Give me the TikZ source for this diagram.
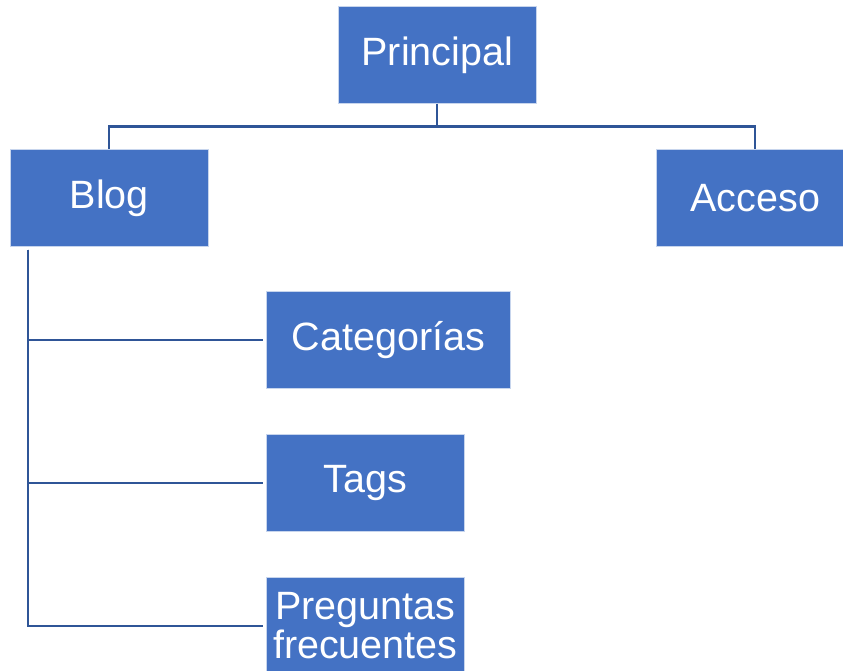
\documentclass[tikz,border=0pt]{standalone}
\usepackage{fontspec}
\setmainfont{Liberation Sans}
\definecolor{boxblue}{RGB}{68,114,196}
\definecolor{lineblue}{RGB}{47,85,151}
\begin{document}
\begin{tikzpicture}[x=1pt,y=-1pt,
  box/.style={fill=boxblue, draw=white!70!boxblue, line width=0.6pt, anchor=north west, inner sep=0pt,
    text=white, font=\fontsize{39.5}{40}\selectfont, align=center},
  conn/.style={draw=lineblue, line width=2.2pt}]
\useasboundingbox (0,0) rectangle (843,671);
\clip (0,0) rectangle (843,671);
\node[box, minimum width=198pt, minimum height=97pt] (principal) at (338,6) {Principal};
\node[box, minimum width=198pt, minimum height=97pt] (blog) at (10,149) {Blog};
\node[box, minimum width=198pt, minimum height=97pt] (acceso) at (656,149) {Acceso};
\node[box, minimum width=244pt, minimum height=97pt] (cat) at (266,291) {Categorías};
\node[box, minimum width=198pt, minimum height=97pt] (tags) at (266,434) {Tags};
\node[box, minimum width=198pt, minimum height=97pt] (preg) at (266,577) {Preguntas\\[-1pt]frecuentes};
\coordinate (bus) at ([yshift=-23pt]principal.south);
\coordinate (bstart) at ([xshift=18pt,yshift=-3pt]blog.south west);
\draw[conn] (principal.south) -- (bus) -| (blog.north);
\draw[conn] (bus) -| (acceso.north);
\draw[conn] (bstart) |- ([xshift=-3pt]preg.west);
\draw[conn] (bstart) |- ([xshift=-3pt]cat.west);
\draw[conn] (bstart) |- ([xshift=-3pt]tags.west);
\end{tikzpicture}
\end{document}
